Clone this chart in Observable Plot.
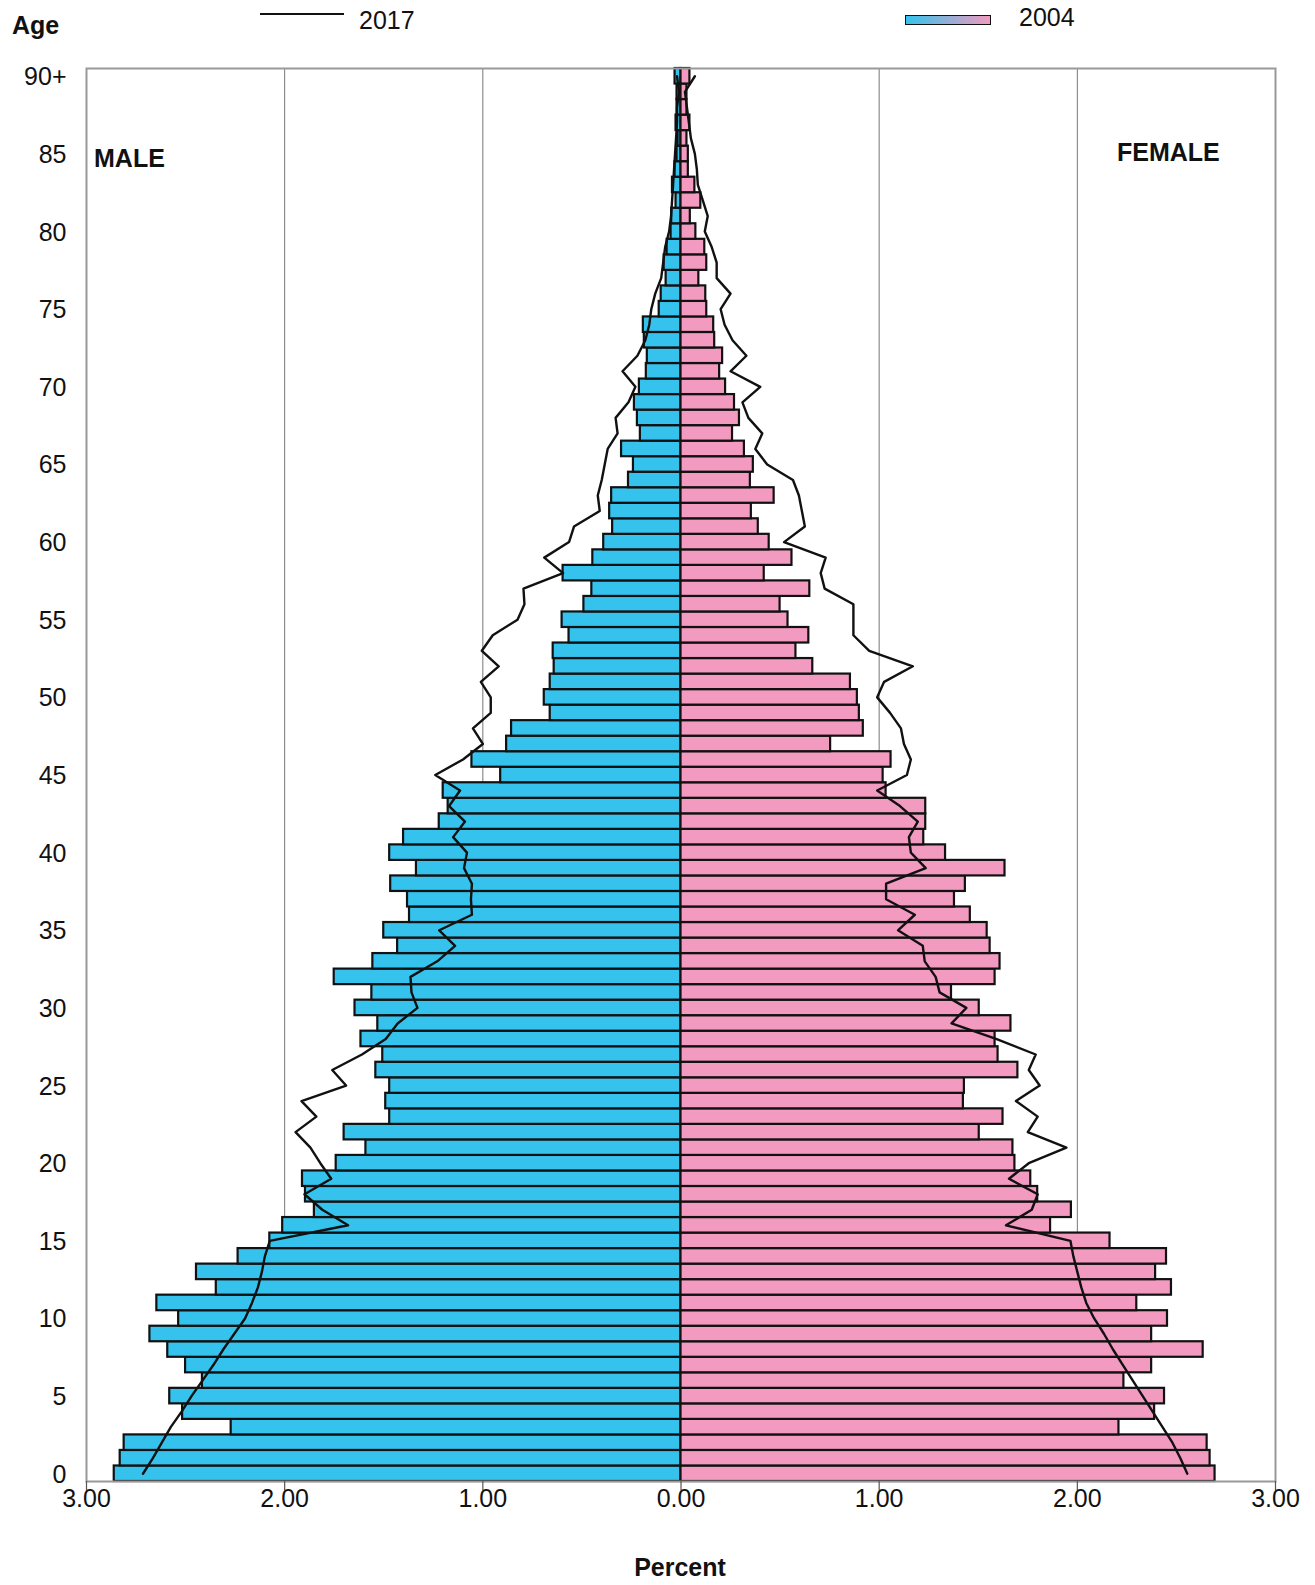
<!DOCTYPE html>
<html><head><meta charset="utf-8">
<script src="https://cdn.jsdelivr.net/npm/d3@7"></script>
<script src="https://cdn.jsdelivr.net/npm/@observablehq/plot@0.6"></script>
<style>
body{margin:0;background:#fff;font-family:"Liberation Sans",Arial,sans-serif;}
#wrap{position:relative;width:1315px;height:1585px;}
.t{position:absolute;font-size:25px;line-height:1;color:#111;white-space:nowrap;}
.b{font-weight:bold;}
</style></head><body><div id="wrap"></div>
<script>
// Ages 0 .. 90 (90 = "90+")
const ages = d3.range(0, 91);
const yTicks = [0,5,10,15,20,25,30,35,40,45,50,55,60,65,70,75,80,85,90];
const xTicks = [-3,-2,-1,0,1,2,3];
const gridX = [-2,-1,1,2];

// 2004 bars, percent of population
const male2004 = [2.86,2.83,2.81,2.27,2.515,2.58,2.415,2.50,2.59,2.68,
  2.535,2.645,2.345,2.445,2.235,2.075,2.01,1.85,1.895,1.91,
  1.74,1.59,1.70,1.47,1.49,1.47,1.54,1.505,1.615,1.53,
  1.645,1.56,1.75,1.555,1.43,1.50,1.37,1.38,1.465,1.335,
  1.47,1.40,1.22,1.175,1.20,0.91,1.055,0.88,0.855,0.66,
  0.69,0.66,0.64,0.645,0.565,0.60,0.49,0.45,0.595,0.445,
  0.39,0.345,0.36,0.35,0.265,0.24,0.30,0.205,0.22,0.235,
  0.21,0.175,0.17,0.185,0.19,0.11,0.10,0.075,0.085,0.07,
  0.05,0.047,0.025,0.043,0.03,0.02,0.015,0.025,0.02,0.02,0.03];
const female2004 = [2.695,2.67,2.655,2.21,2.39,2.44,2.235,2.375,2.635,2.375,
  2.455,2.30,2.475,2.395,2.45,2.165,1.865,1.97,1.80,1.765,
  1.685,1.675,1.505,1.625,1.425,1.43,1.70,1.60,1.585,1.665,
  1.505,1.365,1.585,1.61,1.56,1.545,1.46,1.38,1.435,1.635,
  1.335,1.225,1.235,1.235,1.035,1.02,1.06,0.755,0.92,0.90,
  0.89,0.855,0.665,0.58,0.645,0.54,0.50,0.65,0.42,0.56,
  0.445,0.39,0.355,0.47,0.35,0.365,0.32,0.26,0.295,0.27,
  0.225,0.195,0.21,0.17,0.165,0.13,0.125,0.09,0.13,0.12,
  0.075,0.047,0.10,0.07,0.037,0.037,0.03,0.045,0.03,0.03,0.045];
// 2017 lines
const male2017 = [2.715,2.665,2.62,2.575,2.52,2.47,2.415,2.36,2.31,2.255,
  2.20,2.165,2.135,2.115,2.10,2.075,1.68,1.81,1.90,1.765,
  1.82,1.87,1.945,1.84,1.915,1.69,1.76,1.61,1.49,1.43,
  1.33,1.36,1.365,1.23,1.14,1.22,1.055,1.06,1.055,1.095,
  1.08,1.15,1.09,1.17,1.115,1.24,1.10,1.00,1.05,0.96,
  0.96,1.01,0.92,1.005,0.95,0.825,0.79,0.795,0.595,0.69,
  0.565,0.54,0.41,0.42,0.40,0.385,0.37,0.32,0.33,0.265,
  0.23,0.295,0.22,0.18,0.16,0.15,0.13,0.10,0.09,0.08,
  0.06,0.05,0.045,0.04,0.035,0.03,0.025,0.02,0.02,0.01,0.02];
const female2017 = [2.555,2.52,2.48,2.43,2.38,2.33,2.28,2.23,2.18,2.135,
  2.085,2.045,2.02,2.00,1.98,1.965,1.64,1.77,1.80,1.655,
  1.755,1.945,1.75,1.80,1.69,1.81,1.755,1.79,1.59,1.365,
  1.44,1.305,1.285,1.23,1.22,1.095,1.18,1.035,1.035,1.235,
  1.16,1.15,1.195,1.105,0.99,1.14,1.16,1.125,1.11,1.055,
  0.99,1.025,1.17,0.95,0.87,0.87,0.87,0.725,0.705,0.73,
  0.52,0.625,0.61,0.595,0.565,0.435,0.375,0.41,0.34,0.31,
  0.40,0.25,0.33,0.26,0.22,0.20,0.25,0.18,0.18,0.155,
  0.12,0.135,0.11,0.085,0.08,0.07,0.05,0.04,0.03,0.02,0.07];

const BLUE = "#35c3ee", PINK = "#f29abf";

const maleBars = ages.map((a, i) => ({age: a, v: -male2004[i]}));
const femaleBars = ages.map((a, i) => ({age: a, v: female2004[i]}));
const maleLine = ages.map((a, i) => ({age: a, v: -male2017[i]}));
const femaleLine = ages.map((a, i) => ({age: a, v: female2017[i]}));

const chart = Plot.plot({
  width: 1315, height: 1585,
  marginLeft: 86, marginRight: 40, marginTop: 68, marginBottom: 104,
  style: {fontFamily: "'Liberation Sans', Arial, sans-serif", fontSize: "25px", color: "#111", background: "white", overflow: "visible"},
  x: {domain: [-3, 3]},
  y: {domain: [-0.5, 90.5]},
  marks: [
    Plot.ruleX(gridX, {stroke: "#777", strokeWidth: 1}),
    Plot.rect(maleBars, {x1: d => 0, x2: "v", y1: d => d.age - 0.5, y2: d => d.age + 0.5, fill: BLUE, stroke: "#111", strokeWidth: 2.2}),
    Plot.rect(femaleBars, {x1: d => 0, x2: "v", y1: d => d.age - 0.5, y2: d => d.age + 0.5, fill: PINK, stroke: "#111", strokeWidth: 2.2}),
    Plot.line(maleLine, {x: "v", y: "age", stroke: "#111", strokeWidth: 2.4}),
    Plot.line(femaleLine, {x: "v", y: "age", stroke: "#111", strokeWidth: 2.4}),
    Plot.frame({stroke: "#999", strokeWidth: 2}),
    Plot.ruleX(xTicks, {y1: -0.5, y2: -1.1, stroke: "#555", strokeWidth: 1.2}),
    Plot.axisX({ticks: xTicks, tickFormat: d => Math.abs(d).toFixed(2), tickSize: 0, tickPadding: 8, label: null}),
    Plot.axisY({ticks: yTicks, tickFormat: d => d === 90 ? "90+" : String(d), tickSize: 0, tickPadding: 20, dy: 1, label: null})
  ]
});

const wrap = document.getElementById("wrap");
wrap.appendChild(chart);

function addText(txt, left, top, cls, extra) {
  const d = document.createElement("div");
  d.className = "t " + (cls || "");
  d.textContent = txt;
  d.style.left = left + "px";
  d.style.top = top + "px";
  if (extra) Object.assign(d.style, extra);
  wrap.appendChild(d);
}
addText("Age", 12, 13, "b");
addText("MALE", 94, 146, "b");
addText("FEMALE", 1117, 140, "b");
addText("Percent", 680, 1555, "b", {transform: "translateX(-50%)"});
addText("2017", 359, 8, "");
addText("2004", 1019, 5, "");

const ln = document.createElement("div");
Object.assign(ln.style, {position: "absolute", left: "260px", top: "13px", width: "84px", height: "2px", background: "#111"});
wrap.appendChild(ln);
const bx = document.createElement("div");
Object.assign(bx.style, {position: "absolute", left: "905px", top: "15px", width: "84px", height: "8px",
  border: "1.5px solid #111", background: `linear-gradient(to right, ${BLUE}, ${PINK})`});
wrap.appendChild(bx);
</script>
</body></html>
